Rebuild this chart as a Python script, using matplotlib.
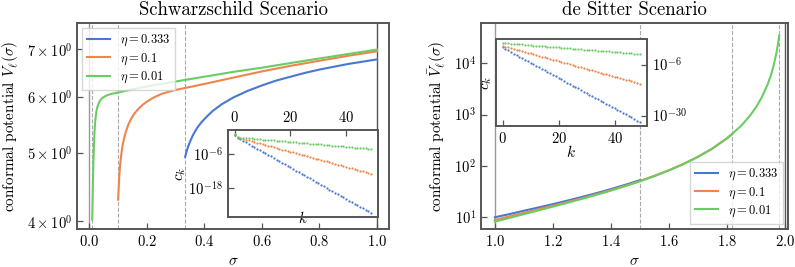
import numpy as np
import matplotlib
matplotlib.use("Agg")
import matplotlib.pyplot as plt
from matplotlib.ticker import FixedLocator, FixedFormatter, NullLocator

plt.rcParams['font.family'] = 'serif'
plt.rcParams['font.serif'] = ['cmr10', 'DejaVu Serif']
plt.rcParams['mathtext.fontset'] = 'cm'
plt.rcParams['axes.formatter.use_mathtext'] = True
plt.rcParams['axes.unicode_minus'] = False

# colours (seaborn "muted")
BLUE, ORANGE, GREEN = '#4878d0', '#ee854a', '#6acc64'
labels = [r'$\eta = 0.333$', r'$\eta = 0.1$', r'$\eta = 0.01$']

# ---- Schwarzschild: conformal potential ----
sch_sigma_blue = [0.333, 0.337, 0.342, 0.350, 0.360, 0.375, 0.390, 0.410, 0.430, 0.460,
                  0.500, 0.550, 0.600, 0.650, 0.700, 0.750, 0.800, 0.900, 1.000]
sch_V_blue = [4.93, 5.00, 5.08, 5.18, 5.29, 5.42, 5.52, 5.63, 5.73, 5.85,
              5.98, 6.11, 6.22, 6.32, 6.40, 6.48, 6.55, 6.67, 6.77]
sch_sigma_orange = [0.100, 0.102, 0.104, 0.107, 0.110, 0.115, 0.120, 0.127, 0.135,
                    0.145, 0.157, 0.170, 0.185, 0.200, 0.220, 0.250, 0.280, 0.300,
                    0.350, 0.400, 0.500, 0.600, 0.700, 0.800, 0.900, 1.000]
sch_V_orange = [4.29, 4.45, 4.62, 4.80, 4.93, 5.10, 5.22, 5.35, 5.47,
                5.58, 5.68, 5.76, 5.84, 5.90, 5.97, 6.05, 6.10, 6.13,
                6.19, 6.25, 6.38, 6.51, 6.63, 6.74, 6.85, 6.95]
sch_sigma_green = [0.010, 0.011, 0.012, 0.013, 0.014, 0.015, 0.016, 0.018, 0.020,
                   0.022, 0.025, 0.028, 0.032, 0.037, 0.043, 0.050, 0.060, 0.075,
                   0.100, 0.200, 0.300, 0.400, 0.500, 0.600, 0.700, 0.800, 0.900, 1.000]
sch_V_green = [4.02, 4.25, 4.45, 4.65, 4.83, 4.98, 5.12, 5.35, 5.51,
               5.62, 5.73, 5.80, 5.86, 5.92, 5.96, 5.99, 6.02, 6.05,
               6.08, 6.20, 6.30, 6.40, 6.50, 6.59, 6.69, 6.79, 6.89, 6.99]

# ---- de Sitter: conformal potential ----
ds_sigma_blue = [1.00, 1.05, 1.10, 1.15, 1.20, 1.25, 1.30, 1.35, 1.40, 1.45, 1.50]
ds_V_blue = [10.0, 11.5, 13.4, 15.5, 18.0, 21.1, 24.9, 29.5, 35.4, 43.0, 52.9]
ds_sigma_orange = [1.00, 1.05, 1.10, 1.15, 1.20, 1.25, 1.30, 1.35, 1.40, 1.45, 1.50,
                   1.55, 1.60, 1.65, 1.70, 1.75, 1.80, 1.818]
ds_V_orange = [8.85, 10.4, 12.2, 14.3, 16.8, 19.8, 23.5, 28.1, 33.9, 41.3, 51.1,
               64.3, 82.8, 109.7, 151.2, 220.0, 346.8, 420.0]
ds_sigma_green = [1.00, 1.05, 1.10, 1.15, 1.20, 1.25, 1.30, 1.35, 1.40, 1.45, 1.50,
                  1.55, 1.60, 1.65, 1.70, 1.75, 1.80, 1.85, 1.88, 1.90, 1.92, 1.94,
                  1.95, 1.96, 1.97, 1.975, 1.98]
ds_V_green = [8.2, 9.7, 11.5, 13.6, 16.1, 19.1, 22.8, 27.3, 33.1, 40.5, 50.2,
              63.3, 81.7, 108.5, 149.8, 218.2, 344.2, 616.4, 966.4, 1394.0, 2182.0,
              3883.0, 5594.0, 8744.0, 15550.0, 22400.0, 34994.0]

# ---- inset coefficients, log10(c_k), k = 0..49 ----
k = list(range(50))
sch_logc_green = [1.2, 0.0, -0.1, -0.2, -0.3, -0.3, -0.4, -0.5, -0.6, -0.7,
                  -0.8, -0.9, -0.9, -1.0, -1.1, -1.2, -1.3, -1.4, -1.4, -1.5,
                  -1.6, -1.7, -1.8, -1.9, -2.0, -2.0, -2.1, -2.2, -2.3, -2.4,
                  -2.5, -2.5, -2.6, -2.7, -2.8, -2.9, -3.0, -3.1, -3.1, -3.2,
                  -3.3, -3.4, -3.5, -3.6, -3.6, -3.7, -3.8, -3.9, -4.0, -4.0]
sch_logc_orange = [1.1, 0.0, -0.3, -0.5, -0.8, -1.1, -1.3, -1.6, -1.9, -2.1,
                   -2.4, -2.7, -2.9, -3.2, -3.5, -3.7, -4.0, -4.3, -4.5, -4.8,
                   -5.1, -5.3, -5.6, -5.9, -6.1, -6.4, -6.7, -6.9, -7.2, -7.5,
                   -7.7, -8.0, -8.3, -8.5, -8.8, -9.1, -9.3, -9.6, -9.9, -10.1,
                   -10.4, -10.7, -10.9, -11.2, -11.5, -11.7, -12.0, -12.3, -12.5, -12.8]
sch_logc_blue = [1.0, -0.1, -0.7, -1.2, -1.8, -2.3, -2.9, -3.4, -4.0, -4.5,
                 -5.1, -5.6, -6.2, -6.7, -7.3, -7.9, -8.4, -9.0, -9.5, -10.1,
                 -10.6, -11.2, -11.7, -12.3, -12.8, -13.4, -13.9, -14.5, -15.1, -15.6,
                 -16.2, -16.7, -17.3, -17.8, -18.4, -18.9, -19.5, -20.0, -20.6, -21.2,
                 -21.7, -22.3, -22.8, -23.4, -23.9, -24.5, -25.0, -25.6, -26.1, -26.7]
ds_logc_green = [4.2, 4.1, 4.0, 3.9, 3.8, 3.7, 3.6, 3.5, 3.4, 3.2,
                 3.1, 3.0, 2.9, 2.8, 2.7, 2.6, 2.5, 2.4, 2.3, 2.2,
                 2.1, 2.0, 1.9, 1.8, 1.7, 1.6, 1.4, 1.3, 1.2, 1.1,
                 1.0, 0.9, 0.8, 0.7, 0.6, 0.5, 0.4, 0.3, 0.2, 0.1,
                 0.0, -0.1, -0.2, -0.4, -0.5, -0.6, -0.7, -0.8, -0.9, -1.0]
ds_logc_orange = [2.9, 2.5, 2.2, 1.8, 1.4, 1.1, 0.7, 0.4, 0.0, -0.4,
                  -0.7, -1.1, -1.5, -1.8, -2.2, -2.5, -2.9, -3.3, -3.6, -4.0,
                  -4.4, -4.7, -5.1, -5.4, -5.8, -6.2, -6.5, -6.9, -7.3, -7.6,
                  -8.0, -8.4, -8.7, -9.1, -9.4, -9.8, -10.2, -10.5, -10.9, -11.3,
                  -11.6, -12.0, -12.3, -12.7, -13.1, -13.4, -13.8, -14.2, -14.5, -14.9]
ds_logc_blue = [2.1, 1.4, 0.7, 0.0, -0.8, -1.5, -2.2, -2.9, -3.6, -4.3,
                -5.1, -5.8, -6.5, -7.2, -7.9, -8.6, -9.4, -10.1, -10.8, -11.5,
                -12.2, -12.9, -13.7, -14.4, -15.1, -15.8, -16.5, -17.2, -17.9, -18.7,
                -19.4, -20.1, -20.8, -21.5, -22.2, -23.0, -23.7, -24.4, -25.1, -25.8,
                -26.5, -27.3, -28.0, -28.7, -29.4, -30.1, -30.8, -31.6, -32.3, -33.0]

sch_dashes = [0.01, 0.1, 0.333]
ds_dashes = [1.5, 1.818, 1.98]

FRAME = '#555555'
TICK_FS = 10.5
LABEL_FS = 11


def style_axes(ax):
    for sp in ax.spines.values():
        sp.set_color(FRAME)
        sp.set_linewidth(1.4)
    ax.tick_params(which='both', direction='in', length=4, width=0.9,
                   color=FRAME, labelsize=TICK_FS)


def draw_inset(ax, logc_list):
    for logc, c in zip(logc_list, [BLUE, ORANGE, GREEN]):
        ax.plot(k, 10.0 ** np.array(logc), ls='none', marker='o', ms=1.6,
                mew=0, color=c)
    ax.set_yscale('log')
    ax.yaxis.set_minor_locator(NullLocator())
    style_axes(ax)
    ax.set_xticks([0, 20, 40])


def add_legend(ax, loc):
    ax.legend(loc=loc, fontsize=9, fancybox=False, edgecolor='#cccccc',
              borderaxespad=0.4, handlelength=1.8, labelspacing=0.25,
              borderpad=0.4)


fig = plt.figure(figsize=(7.95, 2.67), dpi=100)

# ---------------- left: Schwarzschild ----------------
ax1 = fig.add_axes([0.0972, 0.1423, 0.3925, 0.7715])
ax1.axvline(0, color='#999999', lw=1.0, zorder=0)
ax1.axvline(1, color='#555555', lw=1.0, zorder=0)
for xd in sch_dashes:
    ax1.axvline(xd, color='#aaaaaa', lw=0.8, ls='--', zorder=0)
ax1.plot(sch_sigma_blue, sch_V_blue, color=BLUE, lw=1.5, label=labels[0])
ax1.plot(sch_sigma_orange, sch_V_orange, color=ORANGE, lw=1.5, label=labels[1])
ax1.plot(sch_sigma_green, sch_V_green, color=GREEN, lw=1.5, label=labels[2])
ax1.set_yscale('log')
ax1.set_xlim(-0.042, 1.043)
ax1.set_ylim(3.9, 7.62)
ax1.yaxis.set_major_locator(FixedLocator([4, 5, 6, 7]))
ax1.yaxis.set_major_formatter(FixedFormatter([r'$4\times10^{0}$', r'$5\times10^{0}$',
                                               r'$6\times10^{0}$', r'$7\times10^{0}$']))
ax1.yaxis.set_minor_locator(NullLocator())
ax1.set_xticks([0.0, 0.2, 0.4, 0.6, 0.8, 1.0])
style_axes(ax1)
ax1.set_title('Schwarzschild Scenario', fontsize=13.5)
ax1.set_xlabel(r'$\sigma$', fontsize=LABEL_FS)
ax1.set_ylabel(r'conformal potential $\bar{V}_\ell(\sigma)$', fontsize=LABEL_FS)
add_legend(ax1, 'upper left')

ins1 = fig.add_axes([0.2868, 0.1873, 0.1887, 0.3258])
draw_inset(ins1, [sch_logc_blue, sch_logc_orange, sch_logc_green])
ins1.set_yticks([1e-6, 1e-18])
ins1.xaxis.tick_top()
ins1.set_xlabel(r'$k$', fontsize=LABEL_FS, labelpad=-5)
ins1.set_ylabel(r'$c_k$', fontsize=LABEL_FS, labelpad=0)

# ---------------- right: de Sitter ----------------
ax2 = fig.add_axes([0.605, 0.1423, 0.3865, 0.7715])
ax2.axvline(1, color='#999999', lw=1.0, zorder=0)
ax2.axvline(2, color='#555555', lw=1.0, zorder=0)
for xd in ds_dashes:
    ax2.axvline(xd, color='#aaaaaa', lw=0.8, ls='--', zorder=0)
ax2.plot(ds_sigma_blue, ds_V_blue, color=BLUE, lw=1.5, label=labels[0])
ax2.plot(ds_sigma_orange, ds_V_orange, color=ORANGE, lw=1.5, label=labels[1])
ax2.plot(ds_sigma_green, ds_V_green, color=GREEN, lw=1.5, label=labels[2])
ax2.set_yscale('log')
ax2.set_xlim(0.952, 2.011)
ax2.set_ylim(5.9, 6.1e4)
ax2.yaxis.set_minor_locator(NullLocator())
ax2.set_xticks([1.0, 1.2, 1.4, 1.6, 1.8, 2.0])
style_axes(ax2)
ax2.set_title('de Sitter Scenario', fontsize=13.5)
ax2.set_xlabel(r'$\sigma$', fontsize=LABEL_FS)
ax2.set_ylabel(r'conformal potential $\bar{V}_\ell(\sigma)$', fontsize=LABEL_FS)
add_legend(ax2, 'lower right')

ins2 = fig.add_axes([0.6235, 0.528, 0.19, 0.3258])
draw_inset(ins2, [ds_logc_blue, ds_logc_orange, ds_logc_green])
ins2.set_yticks([1e-6, 1e-30])
ins2.yaxis.tick_right()
ins2.set_xlabel(r'$k$', fontsize=LABEL_FS, labelpad=-1)
ins2.set_ylabel(r'$c_k$', fontsize=LABEL_FS, labelpad=1)

fig.savefig('out.png', dpi=100)
